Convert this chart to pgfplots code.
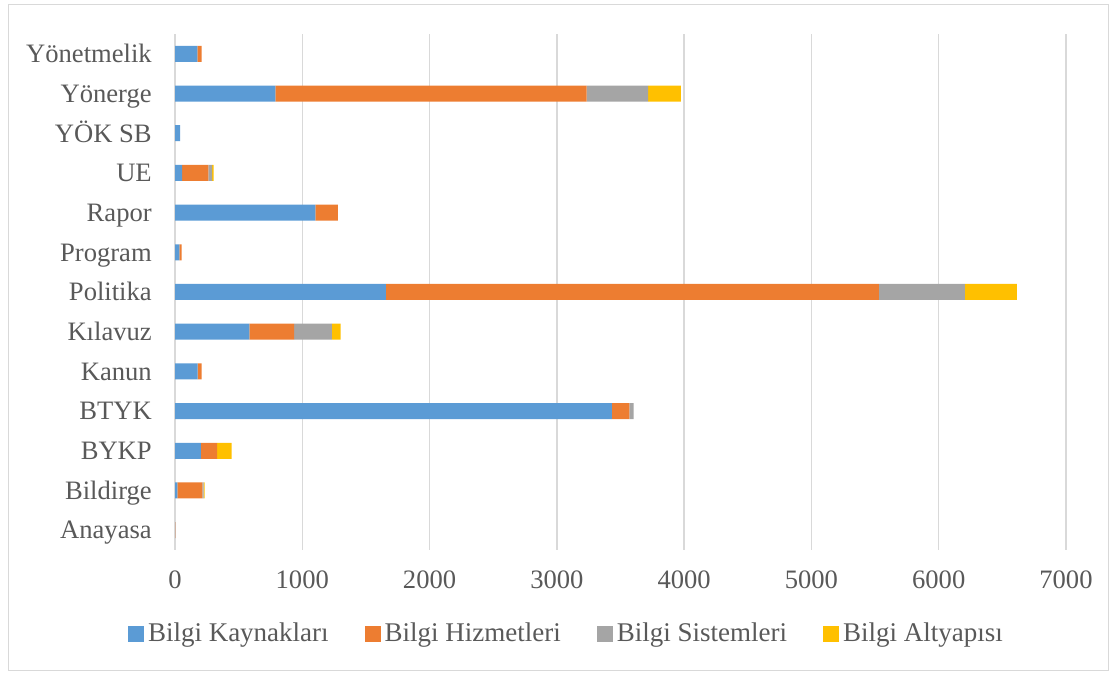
\documentclass[border=0pt]{standalone}
\usepackage{fontspec}
\setmainfont{Liberation Serif}
\usepackage{pgfplots}
\pgfplotsset{compat=1.18}
\definecolor{cBlue}{HTML}{5B9BD5}
\definecolor{cOrange}{HTML}{ED7D31}
\definecolor{cGray}{HTML}{A5A5A5}
\definecolor{cYellow}{HTML}{FFC000}
\definecolor{gridgray}{HTML}{D9D9D9}
\definecolor{textgray}{HTML}{595959}
\begin{document}
\fontsize{13.3}{16}\selectfont
\begin{tikzpicture}[x=1pt,y=1pt]
\path (0,0) rectangle (556.5,336.5);
\draw[color=gridgray, line width=0.5pt] (4,1) rectangle (554,334);
\begin{axis}[
  at={(87.5pt,61.5pt)}, anchor=south west,
  scale only axis, width=445.5pt, height=258pt,
  xbar stacked, bar width=8pt,
  xmin=0, xmax=7000, ymin=-0.5, ymax=12.5,
  xtick={0,1000,...,7000},
  ytick={0,...,12},
  yticklabels={Anayasa,Bildirge,BYKP,BTYK,Kanun,Kılavuz,Politika,Program,Rapor,UE,YÖK SB,Yönerge,Yönetmelik},
  xmajorgrids,
  major grid style={color=gridgray, line width=0.75pt},
  axis line style={draw=none},
  major tick length=0pt,
  tick label style={font=\fontsize{13.3}{16}\selectfont, text=textgray},
  /pgf/number format/assume math mode=true,
  /pgf/number format/1000 sep={},
  yticklabel style={xshift=-7pt, text height=8.8pt, text depth=0pt},
  xticklabel style={yshift=-6pt},
  legend columns=4,
  legend style={at={(0.4405,-0.1628)}, anchor=center, draw=none, fill=none,
    font=\fontsize{13.5}{16}\selectfont, text=textgray,
    /tikz/every even column/.append style={column sep=16pt}},
  legend image code/.code={\fill[#1] (0pt,-4pt) rectangle (8pt,4pt);},
  legend cell align=left,
]
\addplot[fill=cBlue, draw=none] coordinates {
 (1,0) (18,1) (204,2) (3433,3) (178,4) (584,5) (1657,6) (34,7) (1102,8) (55,9) (40,10) (788,11) (175,12)};
\addplot[fill=cOrange, draw=none] coordinates {
 (2,0) (197,1) (126,2) (136,3) (32,4) (351,5) (3873,6) (18,7) (178,8) (207,9) (0,10) (2446,11) (35,12)};
\addplot[fill=cGray, draw=none] coordinates {
 (0,0) (10,1) (0,2) (34,3) (0,4) (298,5) (676,6) (0,7) (0,8) (29,9) (0,10) (484,11) (0,12)};
\addplot[fill=cYellow, draw=none] coordinates {
 (0,0) (7,1) (115,2) (0,3) (0,4) (69,5) (408,6) (0,7) (0,8) (13,9) (0,10) (257,11) (0,12)};
\legend{Bilgi Kaynakları, Bilgi Hizmetleri, Bilgi Sistemleri, Bilgi Altyapısı}
\end{axis}
\end{tikzpicture}
\end{document}
